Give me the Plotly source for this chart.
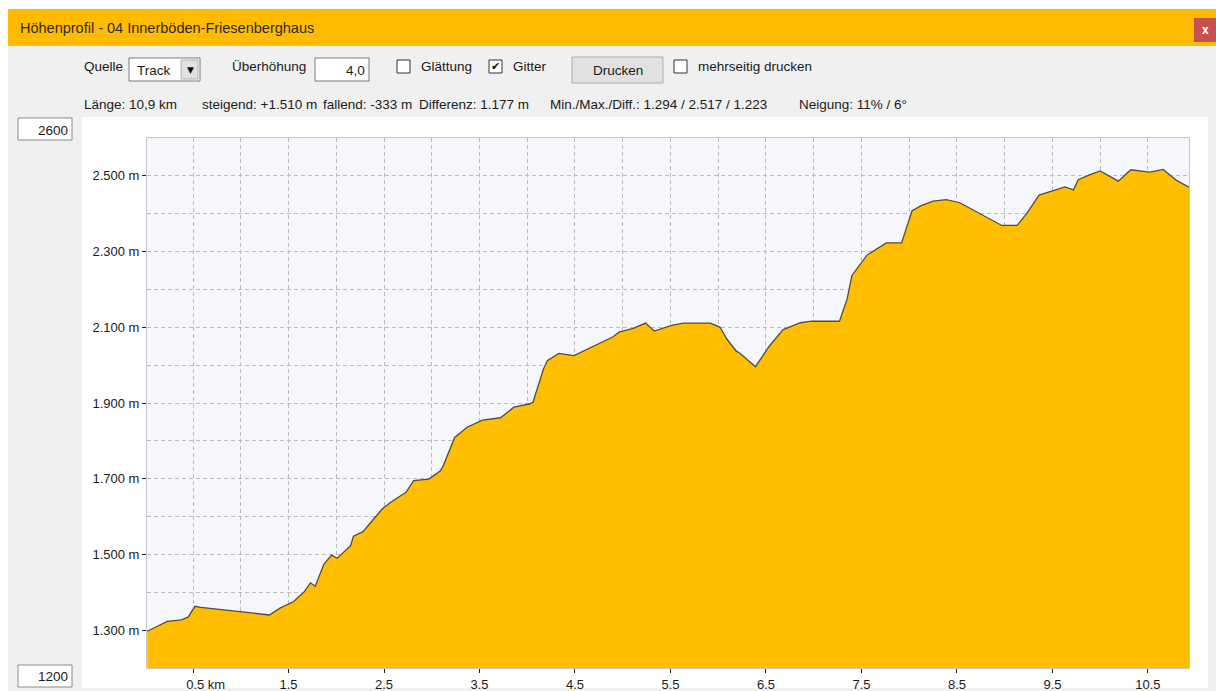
import plotly.graph_objects as go

# profile (km, m)
distance_km = [0.02, 0.23, 0.38, 0.45, 0.52, 0.58, 0.92, 1.24, 1.30, 1.41,
               1.55, 1.66, 1.73, 1.78, 1.87, 1.95, 2.01, 2.15, 2.18, 2.28,
               2.48, 2.57, 2.73, 2.81, 2.97, 3.09, 3.12, 3.24, 3.37, 3.53,
               3.72, 3.86, 4.03, 4.06, 4.17, 4.21, 4.33, 4.49, 4.90, 4.96,
               5.11, 5.24, 5.33, 5.52, 5.64, 5.92, 6.02, 6.09, 6.19, 6.23,
               6.39, 6.54, 6.68, 6.86, 6.98, 7.27, 7.35, 7.40, 7.56, 7.76,
               7.92, 8.03, 8.13, 8.25, 8.39, 8.53, 8.74, 8.97, 9.13, 9.23,
               9.36, 9.51, 9.63, 9.72, 9.77, 9.90, 10.00, 10.19, 10.32, 10.52,
               10.66, 10.80, 10.93]
elevation_m = [1297, 1323, 1327, 1335, 1363, 1360, 1351, 1343, 1340, 1358,
               1375, 1400, 1425, 1416, 1474, 1498, 1490, 1523, 1548, 1560,
               1620, 1638, 1664, 1695, 1699, 1721, 1734, 1809, 1836, 1855,
               1861, 1889, 1898, 1902, 1990, 2012, 2031, 2025, 2075, 2087,
               2097, 2111, 2090, 2106, 2111, 2111, 2100, 2069, 2037, 2031,
               1996, 2052, 2094, 2112, 2116, 2116, 2175, 2237, 2291, 2323,
               2323, 2408, 2422, 2433, 2437, 2429, 2400, 2369, 2369, 2400,
               2449, 2462, 2471, 2463, 2490, 2504, 2513, 2486, 2516, 2510,
               2517, 2488, 2470]

x_tickvals = [0.5, 1.5, 2.5, 3.5, 4.5, 5.5, 6.5, 7.5, 8.5, 9.5, 10.5]
x_ticktext = ['\u00a0\u00a0\u00a0\u00a0\u00a0\u00a0\u00a00.5 km', '1.5', '2.5', '3.5', '4.5', '5.5',
              '6.5', '7.5', '8.5', '9.5', '10.5']
y_tickvals = [1300, 1500, 1700, 1900, 2100, 2300, 2500]
y_ticktext = ['1.300 m', '1.500 m', '1.700 m', '1.900 m', '2.100 m', '2.300 m', '2.500 m']

title_text = 'Höhenprofil - 04 Innerböden-Friesenberghaus'
stats = [
    (82, 'Länge: 10,9 km'),
    (200, 'steigend: +1.510 m'),
    (321, 'fallend: -333 m'),
    (417, 'Differenz: 1.177 m'),
    (548, 'Min./Max./Diff.: 1.294 / 2.517 / 1.223'),
    (797, 'Neigung: 11% / 6°'),
]

# plot area in screen pixels (body margin is removed below, figure sits at 0,0)
L, R, T, B = 147, 1189, 138, 668
W, H = R - L, B - T

UI_FONT = 'Liberation Sans, Arial, sans-serif'


def fx(x):
    return (x - L) / W


def fy(y):
    return (B - y) / H


shapes = []
annotations = []


def box(x0, y0, x1, y1, fill, line=None, width=1):
    shapes.append(dict(
        type='rect', xref='paper', yref='paper', layer='below',
        x0=fx(x0), x1=fx(x1), y0=fy(y1), y1=fy(y0),
        fillcolor=fill,
        line=dict(color=line or fill, width=width if line else 0)
    ))


def text(x, y, s, size=13.5, color='#1a1a1a', anchor='left', family=UI_FONT):
    annotations.append(dict(
        xref='paper', yref='paper', x=fx(x), y=fy(y), text=s,
        showarrow=False, xanchor=anchor, yanchor='middle',
        font=dict(family=family, size=size, color=color)
    ))


# window chrome
box(8, 9, 1216, 691, '#F0F0F0')
box(8, 9, 1216, 46, '#FFBB00')
box(1194, 18, 1216, 42, '#C75050')
text(1205, 30, '<b>x</b>', size=12, color='white', anchor='center')
text(18, 28, title_text, size=14.5, color='#2b2b2b')

# control row
text(82, 67, 'Quelle')
box(129, 58, 200, 81, 'white', '#7A7A7A')
box(181, 60, 198, 79, '#E1E1E1', '#B0B0B0')
text(190, 70, '▼', size=9, color='#111', anchor='center', family='DejaVu Sans')
text(135, 71, 'Track')
text(230, 66, 'Überhöhung')
box(315, 58, 369, 81, 'white', '#7A7A7A')
text(367, 71, '4,0', anchor='right')
box(397, 60, 410, 73, 'white', '#333333')
text(419, 67, 'Glättung')
box(489, 60, 502, 73, 'white', '#333333')
text(495.5, 66.5, '✔', size=11, color='#111', anchor='center', family='DejaVu Sans')
text(511, 67, 'Gitter')
box(572, 57, 663, 83, '#E1E1E1', '#ADADAD')
text(617.5, 71, 'Drucken', anchor='center')
box(674, 60, 687, 73, 'white', '#333333')
text(696, 67, 'mehrseitig drucken')

for sx, s in stats:
    text(sx, 105, s)

# chart panel and range boxes
box(82, 117, 1208, 688, 'white')
box(L, T, R, B, '#F6F7FC')
box(18, 118, 72, 140, 'white', '#8A8A8A')
text(70, 130, '2600', anchor='right')
box(18, 665, 72, 687, 'white', '#8A8A8A')
text(70, 676, '1200', anchor='right')

fig = go.Figure()
fig.add_trace(go.Scatter(
    x=distance_km,
    y=elevation_m,
    mode='lines',
    fill='tozeroy',
    fillcolor='#FFBF00',
    line=dict(color='#4D4D4D', width=1.3),
    hoverinfo='x+y'
))

fig.update_layout(
    width=1216,
    height=691,
    margin=dict(l=L, r=1216 - R, t=T, b=691 - B, autoexpand=False),
    paper_bgcolor='white',
    plot_bgcolor='rgba(0,0,0,0)',
    showlegend=False,
    shapes=shapes,
    annotations=annotations,
    xaxis=dict(
        range=[0.018, 10.93],
        tickvals=x_tickvals,
        ticktext=x_ticktext,
        ticks='outside',
        ticklen=4,
        tickcolor='#222',
        showgrid=True,
        gridcolor='#BDBDBD',
        griddash='4px,3px',
        minor=dict(dtick=0.5, tick0=0, showgrid=True, gridcolor='#BDBDBD', griddash='4px,3px'),
        showline=True,
        linecolor='#C8C8C8',
        mirror=True,
        zeroline=False,
        automargin=False,
        tickfont=dict(family=UI_FONT, size=13, color='#1a1a1a'),
    ),
    yaxis=dict(
        range=[1200, 2600],
        tickvals=y_tickvals,
        ticktext=y_ticktext,
        ticks='outside',
        ticklen=4,
        tickcolor='#222',
        showgrid=True,
        gridcolor='#BDBDBD',
        griddash='4px,3px',
        minor=dict(dtick=100, tick0=1200, showgrid=True, gridcolor='#BDBDBD', griddash='4px,3px'),
        showline=True,
        linecolor='#C8C8C8',
        mirror=True,
        zeroline=False,
        automargin=False,
        tickfont=dict(family=UI_FONT, size=13, color='#1a1a1a'),
    ),
)

fig.write_html("out.html", config={'displayModeBar': False},
               post_script="document.body.style.margin='0';document.body.style.overflow='hidden';")
